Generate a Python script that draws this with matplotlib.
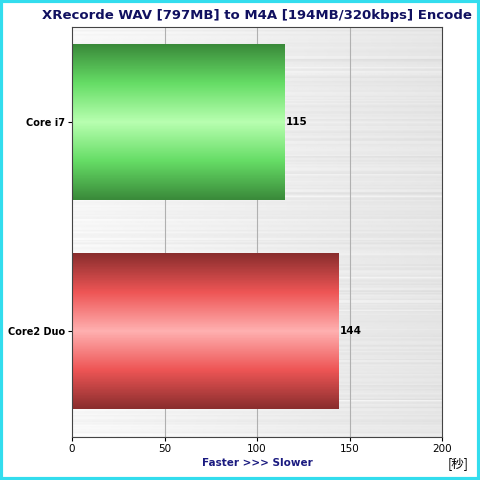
import numpy as np
import matplotlib
matplotlib.use("Agg")
import matplotlib.pyplot as plt
from matplotlib.colors import LinearSegmentedColormap

categories = ["Core i7", "Core2 Duo"]
values = [115, 144]
xticks = [0, 50, 100, 150, 200]

plt.rcParams['font.family'] = ['DejaVu Sans', 'Noto Sans CJK JP']
fig = plt.figure(figsize=(4.8, 4.8), dpi=100)
fig.patch.set_facecolor("white")
fig.add_artist(plt.Rectangle((0.003, 0.003), 0.994, 0.994, transform=fig.transFigure,
                             fill=False, edgecolor="#33ddee", linewidth=3))
ax = fig.add_axes([0.15, 0.0896, 0.771, 0.8544])
ax.set_xlim(0, 200)
ax.set_ylim(1.507, -0.455)

rng = np.random.default_rng(1)
grad = np.linspace(0.97, 0.90, 400)[None, :]
streak = rng.normal(0, 0.015, (300, 1)) * np.ones((1, 400))
bg = np.clip(grad + streak, 0, 1)
ax.imshow(bg, cmap="gray", vmin=0, vmax=1, extent=[0, 200, 1.507, -0.455], aspect="auto", zorder=0)
for x in [50, 100, 150]:
    ax.axvline(x, color="#b0b0b0", lw=0.8, zorder=1)

h = 0.746
cmaps = [LinearSegmentedColormap.from_list("g", ["#3a8a3a", "#66dd66", "#b8ffb0", "#66dd66", "#3a8a3a"]),
         LinearSegmentedColormap.from_list("r", ["#8a2e2e", "#ee5555", "#ffb0b0", "#ee5555", "#8a2e2e"])]
for i, (c, v) in enumerate(zip(categories, values)):
    g = np.linspace(0, 1, 200)[:, None]
    ax.imshow(g, cmap=cmaps[i], extent=[0, v, i + h / 2, i - h / 2], aspect="auto", zorder=2)
    ax.text(v + 0.5, i, str(v), va="center", ha="left", fontsize=7.5, fontweight="bold", zorder=3)

ax.set_yticks(range(len(categories)))
ax.set_yticklabels(categories, fontsize=7, fontweight="bold")
ax.set_xticks(xticks)
ax.set_xticklabels([str(t) for t in xticks], fontsize=7.5)
ax.tick_params(length=3, pad=2)
ax.set_xlabel("Faster >>> Slower", fontsize=7.5, fontweight="bold", color="#1a1a80", labelpad=3)
for s in ax.spines.values():
    s.set_color("#444444")
ax.set_title("XRecorde WAV [797MB] to M4A [194MB/320kbps] Encode", fontsize=9.5,
             fontweight="bold", color="#101060", pad=6)
fig.text(0.955, 0.027, "[秒]", fontsize=9, ha="center", family=['Noto Sans CJK JP', 'DejaVu Sans'])
fig.savefig("out.png", dpi=100)
